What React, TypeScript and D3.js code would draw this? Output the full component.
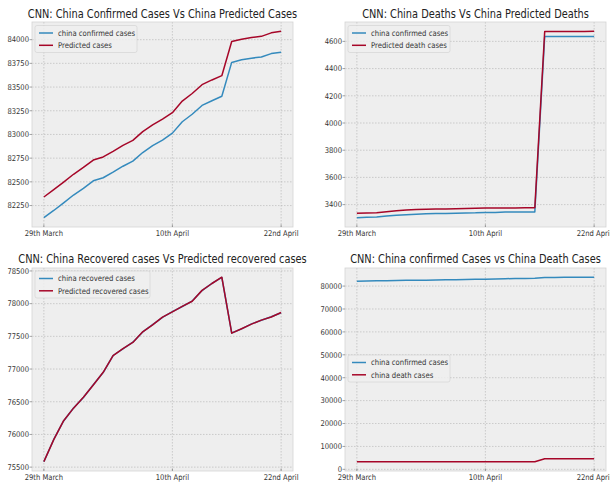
import React from "react";
import * as d3 from "d3";

// Daily series, 29th March .. 22nd April (25 days)
const chinaConfirmed = [82122, 82198, 82279, 82361, 82432, 82511, 82543, 82602, 82665, 82718, 82809, 82883, 82941, 83014, 83134, 83213, 83306, 83356, 83403, 83760, 83787, 83805, 83817, 83853, 83868];
const predictedCases = [82340, 82418, 82498, 82580, 82652, 82730, 82763, 82822, 82885, 82938, 83030, 83100, 83162, 83230, 83352, 83432, 83525, 83575, 83620, 83980, 84005, 84022, 84035, 84072, 84088];
const chinaDeaths = [3304, 3308, 3309, 3316, 3322, 3326, 3330, 3333, 3335, 3335, 3337, 3339, 3340, 3343, 3343, 3345, 3345, 3346, 3346, 4636, 4636, 4636, 4636, 4636, 4636];
const predictedDeaths = [3336, 3338, 3340, 3348, 3355, 3360, 3364, 3366, 3367, 3368, 3370, 3372, 3373, 3375, 3375, 3376, 3376, 3377, 3377, 4673, 4673, 4673, 4673, 4673, 4674];
const chinaRecovered = [75582, 75923, 76206, 76405, 76565, 76760, 76946, 77207, 77310, 77410, 77567, 77679, 77791, 77877, 77956, 78039, 78200, 78311, 78401, 77552, 77614, 77690, 77745, 77799, 77861];
const predictedRecovered = [75585, 75920, 76210, 76402, 76568, 76757, 76950, 77204, 77313, 77407, 77570, 77676, 77794, 77874, 77959, 78036, 78203, 78308, 78404, 77549, 77617, 77687, 77748, 77796, 77864];

const xTickIndex = [0, 13, 24];
const xTickLabels = ["29th March", "10th April", "22nd April"];

const ticksCases = [82250, 82500, 82750, 83000, 83250, 83500, 83750, 84000];
const ticksDeaths = [3400, 3600, 3800, 4000, 4200, 4400, 4600];
const ticksRecovered = [75500, 76000, 76500, 77000, 77500, 78000, 78500];
const ticksOverall = [0, 10000, 20000, 30000, 40000, 50000, 60000, 70000, 80000];

const BLUE = "#348ABD";
const RED = "#A60628";
const FONT = "DejaVu Sans, sans-serif";
const SX = 0.86; // horizontal text compression

type Series = { name: string; values: number[]; color: string };

function T({ x, y, size, anchor = "start", fill = "#333", children }: any) {
  return (
    <text
      transform={`translate(${x},${y}) scale(${SX},1)`}
      fontSize={size}
      fontFamily={FONT}
      textAnchor={anchor}
      fill={fill}
    >
      {children}
    </text>
  );
}

function Panel({
  x0, x1, y0, y1, title, titleY, series, yTicks, legendX, legendY, legendW,
}: {
  x0: number; x1: number; y0: number; y1: number; title: string; titleY: number;
  series: Series[]; yTicks: number[]; legendX: number; legendY: number; legendW: number;
}) {
  const n = series[0].values.length;
  const xm = (n - 1) * 0.05;
  const x = d3.scaleLinear().domain([-xm, n - 1 + xm]).range([x0, x1]);
  const all = series.flatMap((s) => s.values);
  const [lo, hi] = d3.extent(all) as [number, number];
  const ym = (hi - lo) * 0.05;
  const y = d3.scaleLinear().domain([lo - ym, hi + ym]).range([y1, y0]);
  const line = d3.line<number>().x((_, i) => x(i)).y((v) => y(v));
  const clipId = `clip-${Math.round(x0)}-${Math.round(y0)}`;

  return (
    <g>
      <defs>
        <clipPath id={clipId}>
          <rect x={x0} y={y0} width={x1 - x0} height={y1 - y0} />
        </clipPath>
      </defs>
      <rect x={x0} y={y0} width={x1 - x0} height={y1 - y0} fill="#eeeeee" />
      {yTicks.map((t) => (
        <line key={`gy${t}`} x1={x0} x2={x1} y1={y(t)} y2={y(t)} stroke="#b2b2b2" strokeWidth={0.6} strokeDasharray="1.5,1.5" />
      ))}
      {xTickIndex.map((t) => (
        <line key={`gx${t}`} x1={x(t)} x2={x(t)} y1={y0} y2={y1} stroke="#b2b2b2" strokeWidth={0.6} strokeDasharray="1.5,1.5" />
      ))}
      <g clipPath={`url(#${clipId})`}>
        {series.map((s) => (
          <path key={s.name} d={line(s.values) || ""} fill="none" stroke={s.color} strokeWidth={1.5} strokeLinejoin="round" />
        ))}
      </g>
      <rect x={x0} y={y0} width={x1 - x0} height={y1 - y0} fill="none" stroke="#d4d4d4" strokeWidth={0.8} />
      {yTicks.map((t) => (
        <g key={`ty${t}`}>
          <line x1={x0 - 2.5} x2={x0} y1={y(t)} y2={y(t)} stroke="#666" strokeWidth={0.6} />
          <T x={x0 - 3} y={y(t) + 2.8} size={7.9} anchor="end">{t}</T>
        </g>
      ))}
      {xTickIndex.map((t, i) => (
        <g key={`tx${t}`}>
          <line x1={x(t)} x2={x(t)} y1={y1 - 2.5} y2={y1} stroke="#666" strokeWidth={0.6} />
          <T x={x(t)} y={y1 + 9} size={7.9} anchor="middle">{xTickLabels[i]}</T>
        </g>
      ))}
      <T x={(x0 + x1) / 2} y={titleY} size={11.4} anchor="middle" fill="#222">{title}</T>
      <rect x={legendX} y={legendY} width={legendW} height={27} rx={2} fill="#eeeeee" fillOpacity={0.85} stroke="#d0d0d0" strokeWidth={0.6} />
      {series.map((s, i) => (
        <g key={`lg${s.name}`}>
          <line x1={legendX + 4} x2={legendX + 18} y1={legendY + 7.5 + i * 12.3} y2={legendY + 7.5 + i * 12.3} stroke={s.color} strokeWidth={1.5} />
          <T x={legendX + 23} y={legendY + 10.3 + i * 12.3} size={8}>{s.name}</T>
        </g>
      ))}
    </g>
  );
}

export default function App() {
  return (
    <svg width={610} height={487} style={{ position: "absolute", left: 0, top: 0, background: "#fff" }}>
      <rect width={610} height={487} fill="#fff" />
      <Panel
        x0={32} x1={293} y0={22} y1={227}
        title="CNN: China Confirmed Cases Vs China Predicted Cases" titleY={18}
        series={[
          { name: "china confirmed cases", values: chinaConfirmed, color: BLUE },
          { name: "Predicted cases", values: predictedCases, color: RED },
        ]}
        yTicks={ticksCases} legendX={35} legendY={25.5} legendW={102}
      />
      <Panel
        x0={345} x1={606} y0={22} y1={227}
        title="CNN: China Deaths Vs China Predicted Deaths" titleY={18}
        series={[
          { name: "china confirmed cases", values: chinaDeaths, color: BLUE },
          { name: "Predicted death cases", values: predictedDeaths, color: RED },
        ]}
        yTicks={ticksDeaths} legendX={348} legendY={25.5} legendW={102}
      />
      <Panel
        x0={32} x1={293} y0={268} y1={471}
        title="CNN: China Recovered cases Vs Predicted recovered cases" titleY={263}
        series={[
          { name: "china recovered cases", values: chinaRecovered, color: BLUE },
          { name: "Predicted recovered cases", values: predictedRecovered, color: RED },
        ]}
        yTicks={ticksRecovered} legendX={35} legendY={271} legendW={115}
      />
      <Panel
        x0={345} x1={606} y0={268} y1={471}
        title="CNN: China confirmed Cases vs China Death Cases" titleY={263}
        series={[
          { name: "china confirmed cases", values: chinaConfirmed, color: BLUE },
          { name: "china death cases", values: chinaDeaths, color: RED },
        ]}
        yTicks={ticksOverall} legendX={348} legendY={355} legendW={102}
      />
    </svg>
  );
}
